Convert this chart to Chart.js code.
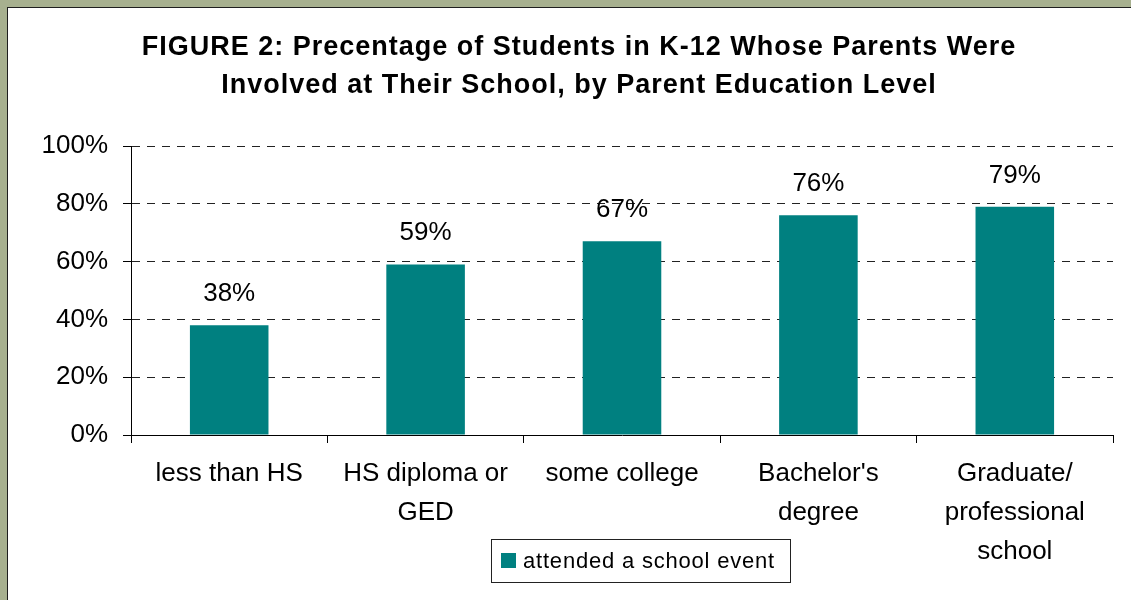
<!DOCTYPE html>
<html>
<head>
<meta charset="utf-8">
<title>Parent involvement by education level</title>
<script src="https://cdn.jsdelivr.net/npm/chart.js@4.4.1/dist/chart.umd.min.js"></script>
<style>
  html, body { margin: 0; padding: 0; overflow: hidden; }
  body { background: #a7b08f; width: 1131px; height: 600px; position: relative; }
  #panel {
    position: absolute; left: 7px; top: 7px; width: 1124px; height: 593px;
    background: #fff; border-top: 1px solid #1e1e1e; border-left: 1px solid #1e1e1e;
  }
  #chartFigure2 { display: block; }
</style>
</head>
<body>
<div id="panel"><canvas id="chartFigure2" width="1123" height="592"></canvas></div>
<script>
var titleLines = [
    "FIGURE 2: Precentage of Students in K-12 Whose Parents Were",
    "Involved at Their School, by Parent Education Level"
];
var categories = [
    ["less than HS"],
    ["HS diploma or", "GED"],
    ["some college"],
    ["Bachelor's", "degree"],
    ["Graduate/", "professional", "school"]
];
var seriesLabel = "attended a school event";
var attendedEvent = [38, 59, 67, 76, 79];
var yTickStep = 20;
var yTickMax = 100;

var FONT = "'Liberation Sans', Arial, sans-serif";

// title text drawn at the top of the canvas
var titlePlugin = {
    id: 'figureTitle',
    afterDraw: function (chart) {
        var ctx = chart.ctx;
        ctx.save();
        ctx.fillStyle = '#000';
        ctx.font = 'bold 27px ' + FONT;
        ctx.textAlign = 'center';
        ctx.textBaseline = 'alphabetic';
        ctx.letterSpacing = '1px';
        ctx.fillText(titleLines[0], 571, 47);
        ctx.fillText(titleLines[1], 571, 85);
        ctx.restore();
    }
};

// percent value above each bar
var valueLabelPlugin = {
    id: 'valueLabels',
    afterDatasetsDraw: function (chart) {
        var ctx = chart.ctx;
        var meta = chart.getDatasetMeta(0);
        ctx.save();
        ctx.fillStyle = '#000';
        ctx.font = '26px ' + FONT;
        ctx.textAlign = 'center';
        ctx.textBaseline = 'alphabetic';
        meta.data.forEach(function (bar, i) {
            ctx.fillText(chart.data.datasets[0].data[i] + '%', bar.x, bar.y - 24);
        });
        ctx.restore();
    }
};

// boxed legend below the plot
var boxLegendPlugin = {
    id: 'boxLegend',
    afterDraw: function (chart) {
        var ctx = chart.ctx;
        var ds = chart.data.datasets[0];
        var bx = 483, by = 531, bw = 299, bh = 43;
        ctx.save();
        ctx.strokeStyle = '#222';
        ctx.lineWidth = 1;
        ctx.strokeRect(bx + 0.5, by + 0.5, bw, bh);
        ctx.fillStyle = ds.backgroundColor;
        ctx.fillRect(bx + 10, by + 14, 15, 15);
        ctx.fillStyle = '#000';
        ctx.font = '22px ' + FONT;
        ctx.letterSpacing = '0.8px';
        ctx.textAlign = 'left';
        ctx.textBaseline = 'alphabetic';
        ctx.fillText(ds.label, bx + 32, by + 29);
        ctx.restore();
    }
};

function drawFigure2() {
    var ctxFigure2 = document.getElementById("chartFigure2");
    var chartFigure2 = new Chart(ctxFigure2, {
        type: 'bar',
        data: {
            labels: categories,
            datasets: [{
                label: seriesLabel,
                data: attendedEvent,
                backgroundColor: '#008080',
                barPercentage: 0.4,
                categoryPercentage: 1.0
            }]
        },
        options: {
            responsive: false,
            animation: false,
            devicePixelRatio: 1,
            layout: { padding: { top: 138, right: 18, left: 0, bottom: 0 } },
            plugins: {
                legend: { display: false },
                title: { display: false },
                tooltip: { enabled: false }
            },
            scales: {
                x: {
                    offset: true,
                    grid: {
                        offset: true,
                        drawOnChartArea: false,
                        drawTicks: true,
                        tickLength: 8,
                        color: '#000'
                    },
                    border: { color: '#000', width: 1 },
                    ticks: {
                        color: '#000',
                        font: { family: FONT, size: 26, lineHeight: 1.5 },
                        padding: 11,
                        maxRotation: 0,
                        autoSkip: false
                    },
                    afterFit: function (scale) { scale.height = 165; }
                },
                y: {
                    min: 0,
                    max: yTickMax,
                    grid: {
                        color: '#222',
                        tickBorderDash: [],
                        tickColor: '#000',
                        tickLength: 8
                    },
                    // border.dash styles the horizontal grid lines
                    border: { color: '#000', width: 1, dash: [8, 7] },
                    ticks: {
                        stepSize: yTickStep,
                        color: '#000',
                        font: { family: FONT, size: 26 },
                        padding: 15,
                        callback: function (v) { return v + '%'; }
                    },
                    afterFit: function (scale) { scale.width = 123; }
                }
            }
        },
        plugins: [titlePlugin, valueLabelPlugin, boxLegendPlugin]
    });
}

drawFigure2();
</script>
</body>
</html>
